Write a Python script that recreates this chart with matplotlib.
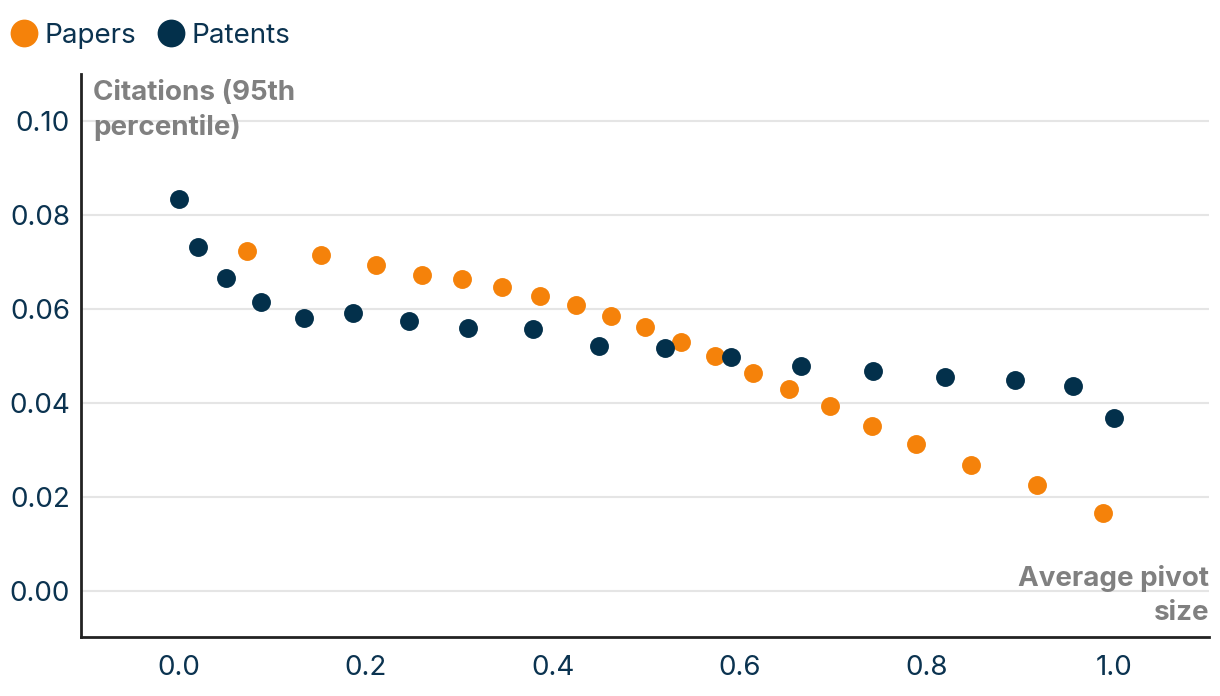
import matplotlib
matplotlib.use("Agg")
import matplotlib.pyplot as plt
from matplotlib.lines import Line2D

plt.rcParams['font.family'] = ['Inter', 'DejaVu Sans']

# Data
papers_x = [0.073, 0.152, 0.211, 0.260, 0.303, 0.345, 0.386, 0.425, 0.462, 0.499,
            0.537, 0.573, 0.614, 0.653, 0.696, 0.741, 0.789, 0.847, 0.918, 0.989]
papers_y = [0.0723, 0.0714, 0.0693, 0.0672, 0.0663, 0.0646, 0.0627, 0.0608, 0.0584, 0.0561,
            0.0529, 0.0499, 0.0463, 0.0429, 0.0394, 0.0352, 0.0313, 0.0269, 0.0226, 0.0166]

patents_x = [0.000, 0.020, 0.050, 0.088, 0.134, 0.186, 0.246, 0.309, 0.379, 0.449,
             0.520, 0.590, 0.665, 0.742, 0.820, 0.894, 0.956, 1.000]
patents_y = [0.0834, 0.0731, 0.0665, 0.0614, 0.0580, 0.0591, 0.0574, 0.0559, 0.0557, 0.0522,
             0.0518, 0.0497, 0.0478, 0.0469, 0.0456, 0.0448, 0.0437, 0.0367]

x_ticks = [0.0, 0.2, 0.4, 0.6, 0.8, 1.0]
y_ticks = [0.00, 0.02, 0.04, 0.06, 0.08, 0.10]

orange = "#f5820a"
navy = "#03304b"
label_col = "#0b3350"
title_col = "#808080"

fig = plt.figure(figsize=(12.2, 6.96), dpi=100)
ax = fig.add_axes([81 / 1220, 1 - 637 / 696, 1128 / 1220, 563 / 696])

ax.scatter(papers_x, papers_y, s=185, color=orange, linewidths=0, zorder=3)
ax.scatter(patents_x, patents_y, s=185, color=navy, linewidths=0, zorder=4)

ax.set_xlim(-0.105, 1.102)
ax.set_ylim(-0.0098, 0.110)
ax.set_xticks(x_ticks)
ax.set_xticklabels([f"{v:.1f}" for v in x_ticks])
ax.set_yticks(y_ticks)
ax.set_yticklabels([f"{v:.2f}" for v in y_ticks])
ax.tick_params(axis='both', length=0, labelsize=20, labelcolor=label_col)
ax.tick_params(axis='x', pad=13)
ax.tick_params(axis='y', pad=8)

ax.grid(axis='y', color="#e5e5e5", linewidth=1.5)
ax.set_axisbelow(True)
for side in ["top", "right"]:
    ax.spines[side].set_visible(False)
for side in ["left", "bottom"]:
    ax.spines[side].set_color("#222222")
    ax.spines[side].set_linewidth(2)

ax.text(12 / 1128, 1 - 6 / 563, "Citations (95th\npercentile)", transform=ax.transAxes,
        ha="left", va="top", fontsize=20, fontweight="bold", color=title_col,
        linespacing=1.4)
ax.text(1.0, 72 / 563, "Average pivot\nsize", transform=ax.transAxes,
        ha="right", va="top", fontsize=20, fontweight="bold", color=title_col,
        linespacing=1.4)

handles = [
    Line2D([], [], marker="o", linestyle="none", markersize=20, color=orange, markeredgewidth=0),
    Line2D([], [], marker="o", linestyle="none", markersize=20, color=navy, markeredgewidth=0),
]
fig.legend(handles, ["Papers", "Patents"], loc="upper left", bbox_to_anchor=(0.0, 1.0 - 13 / 696),
           ncol=2, frameon=False, fontsize=20, labelcolor=label_col,
           handletextpad=0.25, columnspacing=0.75, handlelength=1.0,
           borderaxespad=0.0, borderpad=0.35)

fig.savefig("out.png", dpi=100)
